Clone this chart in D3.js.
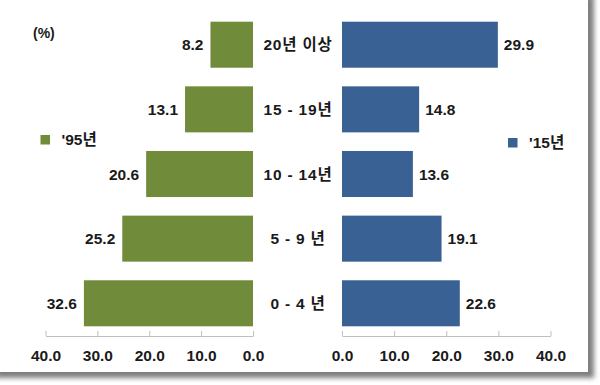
<!DOCTYPE html>
<html>
<head>
<meta charset="utf-8">
<script src="https://cdn.jsdelivr.net/npm/d3@7"></script>
<style>
  body { margin: 0; background: #fff; }
  text { font-family: "Liberation Sans", "Noto Sans CJK KR", sans-serif; font-weight: bold; fill: #1a1a1a; }
</style>
</head>
<body>
<div class="canvas"></div>
<script>
// data
const categories = ['20년 이상', '15 - 19년', '10 - 14년', '5 - 9 년', '0 - 4 년'];
const values95 = [8.2, 13.1, 20.6, 25.2, 32.6];
const values15 = [29.9, 14.8, 13.6, 19.1, 22.6];
const tickValues = [0, 10, 20, 30, 40];
const seriesNames = ["'95년", "'15년"];

const width = 600, height = 385;
const green = '#708c3b', blue = '#3a6193';

const svg = d3.select('.canvas')
    .append('svg')
    .attr('width', width)
    .attr('height', height);

// card with drop shadow
const defs = svg.append('defs');
const f = defs.append('filter').attr('id', 'shadow')
    .attr('x', '-5%').attr('y', '-5%').attr('width', '115%').attr('height', '115%');
f.append('feDropShadow')
    .attr('dx', 6).attr('dy', 6).attr('stdDeviation', 2.5)
    .attr('flood-color', '#555').attr('flood-opacity', 0.75);

svg.append('rect')
    .attr('x', -10).attr('y', -10)
    .attr('width', 598).attr('height', 382)
    .attr('fill', '#fff')
    .attr('filter', 'url(#shadow)');

// scales
const y = d3.scaleBand()
    .domain(categories)
    .range([12, 336])
    .paddingInner(0.288)
    .paddingOuter(0.15);

const xLeft = d3.scaleLinear().domain([0, 40]).range([253, 45.5]);
const xRight = d3.scaleLinear().domain([0, 40]).range([342, 550.5]);

const fs = 15.5;

// left bars ('95)
const left = svg.append('g');
left.selectAll('rect')
    .data(values95)
    .enter()
    .append('rect')
    .attr('x', d => xLeft(d))
    .attr('y', (d, i) => y(categories[i]))
    .attr('width', d => xLeft(0) - xLeft(d))
    .attr('height', y.bandwidth())
    .attr('fill', green);

left.selectAll('text')
    .data(values95)
    .enter()
    .append('text')
    .attr('x', d => xLeft(d) - 7)
    .attr('y', (d, i) => y(categories[i]) + y.bandwidth() / 2)
    .attr('dy', '0.36em')
    .attr('text-anchor', 'end')
    .style('font-size', fs + 'px')
    .text(d => d.toFixed(1));

// right bars ('15)
const right = svg.append('g');
right.selectAll('rect')
    .data(values15)
    .enter()
    .append('rect')
    .attr('x', xRight(0))
    .attr('y', (d, i) => y(categories[i]))
    .attr('width', d => xRight(d) - xRight(0))
    .attr('height', y.bandwidth())
    .attr('fill', blue);

right.selectAll('text')
    .data(values15)
    .enter()
    .append('text')
    .attr('x', d => xRight(d) + 6)
    .attr('y', (d, i) => y(categories[i]) + y.bandwidth() / 2)
    .attr('dy', '0.36em')
    .style('font-size', fs + 'px')
    .text(d => d.toFixed(1));

// category labels in the middle
svg.append('g').selectAll('text')
    .data(categories)
    .enter()
    .append('text')
    .attr('x', 298)
    .attr('y', d => y(d) + y.bandwidth() / 2)
    .attr('dy', '0.36em')
    .attr('text-anchor', 'middle')
    .style('font-size', fs + 'px')
    .style('letter-spacing', '0.8px')
    .style('white-space', 'pre')
    .text(d => d);

// axes
const fmt = d3.format('.1f');
const leftAxis = d3.axisBottom(xLeft).tickValues(tickValues).tickFormat(fmt)
    .tickSizeInner(-5).tickSizeOuter(0).tickPadding(14);
const rightAxis = d3.axisBottom(xRight).tickValues(tickValues).tickFormat(fmt)
    .tickSizeInner(-5).tickSizeOuter(0).tickPadding(14);

[leftAxis, rightAxis].forEach(ax => {
    const g = svg.append('g')
        .attr('transform', 'translate(0, 336)')
        .call(ax);
    g.selectAll('path, line').attr('stroke', '#bfbfbf');
    g.selectAll('text')
        .attr('fill', '#1a1a1a')
        .style('font-size', fs + 'px')
        .style('font-family', '"Liberation Sans", sans-serif')
        .style('font-weight', 'bold');
});

// unit label
svg.append('text')
    .attr('x', 33).attr('y', 38)
    .style('font-size', '14px')
    .text('(%)');

// legends
const legends = [
    { name: seriesNames[0], color: green, x: 40.5, y: 135 },
    { name: seriesNames[1], color: blue, x: 508, y: 138 }
];
legends.forEach(l => {
    svg.append('rect')
        .attr('x', l.x).attr('y', l.y)
        .attr('width', 9.5).attr('height', 9.5)
        .attr('fill', l.color);
    svg.append('text')
        .attr('x', l.x + 21).attr('y', l.y + 4.75)
        .attr('dy', '0.36em')
        .style('font-size', fs + 'px')
        .text(l.name);
});
</script>
</body>
</html>
